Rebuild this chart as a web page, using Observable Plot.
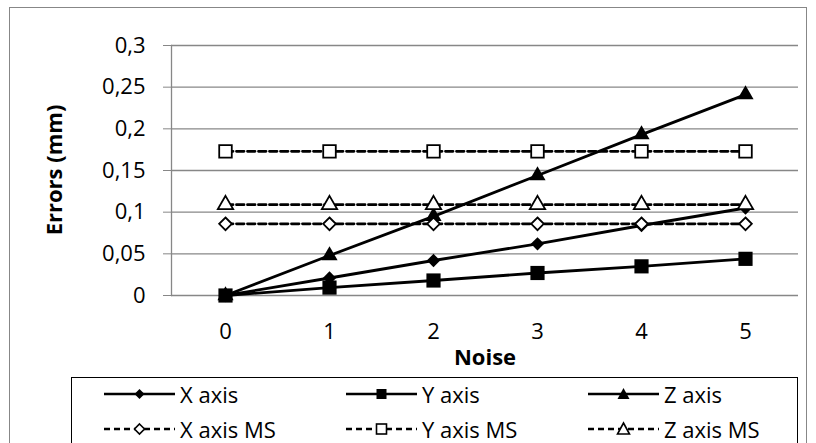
<!DOCTYPE html>
<html>
<head>
<meta charset="utf-8">
<script src="https://cdn.jsdelivr.net/npm/d3@7"></script>
<script src="https://cdn.jsdelivr.net/npm/@observablehq/plot@0.6"></script>
<style>
  html, body { margin: 0; padding: 0; background: #fff; overflow: hidden; }
  #wrap { position: relative; width: 816px; height: 443px; overflow: hidden; font-family: "Open Sans", sans-serif; }
  #border { position: absolute; left: 9px; top: 7px; width: 798px; height: 460px; border: 1px solid #878787; box-sizing: border-box; }
  #chart { position: absolute; left: 0; top: 0; }
  g[aria-label="x-axis label"] text { font-weight: bold; }
  #ylabel { position: absolute; left: 53px; top: 170px; transform: translate(-50%, -50%) rotate(-90deg); font-size: 22px; font-weight: bold; color: #000; white-space: nowrap; line-height: 1; }
  #legend { position: absolute; left: 71px; top: 377px; width: 727px; height: 90px; border: 1px solid #000; box-sizing: border-box; background: #fff; }
  .entry { position: absolute; height: 24px; display: flex; align-items: center; font-size: 22px; color: #000; white-space: nowrap; }
  .entry svg { display: block; margin-right: 5px; }
</style>
</head>
<body>
<div id="wrap">
  <div id="border"></div>
  <div id="chart"></div>
  <div id="ylabel"></div>
  <div id="legend"></div>
</div>
<script>
// ---- data ----
const noise = [0, 1, 2, 3, 4, 5];
const xAxis = [0, 0.021, 0.042, 0.062, 0.084, 0.105];
const yAxis = [0, 0.0095, 0.018, 0.027, 0.035, 0.044];
const zAxis = [0, 0.048, 0.095, 0.144, 0.193, 0.241];
const xAxisMS = [0.086, 0.086, 0.086, 0.086, 0.086, 0.086];
const yAxisMS = [0.173, 0.173, 0.173, 0.173, 0.173, 0.173];
const zAxisMS = [0.109, 0.109, 0.109, 0.109, 0.109, 0.109];
const yTicks = [0, 0.05, 0.1, 0.15, 0.2, 0.25, 0.3];
const seriesNames = ["X axis", "Y axis", "Z axis", "X axis MS", "Y axis MS", "Z axis MS"];
const yLabel = "Errors (mm)";
const xLabel = "Noise";

const seriesValues = [xAxis, yAxis, zAxis, xAxisMS, yAxisMS, zAxisMS];
const seriesStyle = [
  {symbol: "diamond2", fill: "#000", dash: null, r: 6},
  {symbol: "square", fill: "#000", dash: null, r: 8},
  {symbol: "triangle", fill: "#000", dash: null, r: 6},
  {symbol: "diamond2", fill: "#fff", dash: "7.5,3.5", r: 5.7},
  {symbol: "square2", fill: "#fff", dash: "7.5,3.5", r: 8},
  {symbol: "triangle2", fill: "#fff", dash: "7.5,3.5", r: 7.3}
];

const fmt = d => d === 0 ? "0" : String(+d.toFixed(2)).replace(".", ",");

const marks = [
  Plot.ruleY(yTicks, {stroke: "#878787", strokeWidth: 1.3}),
  Plot.frame({anchor: "left", stroke: "#878787", strokeWidth: 1.3}),
  Plot.axisY({ticks: yTicks, tickSize: 8, tickPadding: 18, tickFormat: fmt, stroke: "#878787", label: null}),
  Plot.axisX({tickSize: 0, tickPadding: 28, label: xLabel, labelAnchor: "center", labelArrow: "none", labelOffset: 69})
];

seriesValues.forEach((vals, s) => {
  const st = seriesStyle[s];
  const rows = noise.map((n, i) => ({noise: n, value: vals[i], series: seriesNames[s]}));
  marks.push(Plot.line(rows, {x: "noise", y: "value", stroke: "#000", strokeWidth: 2.8,
    strokeDasharray: st.dash || undefined}));
});
seriesValues.forEach((vals, s) => {
  const st = seriesStyle[s];
  const rows = noise.map((n, i) => ({noise: n, value: vals[i], series: seriesNames[s]}));
  marks.push(Plot.dot(rows, {x: "noise", y: "value", symbol: () => st.symbol, r: st.r,
    fill: st.fill, stroke: st.fill === "#fff" ? "#000" : "none", strokeWidth: 1.8}));
});

const chart = Plot.plot({
  width: 816,
  height: 370,
  marginLeft: 171,
  marginRight: 18,
  marginTop: 45,
  marginBottom: 75,
  style: {fontFamily: "Open Sans, sans-serif", fontSize: "22px", color: "#000", background: "transparent", overflow: "visible"},
  x: {type: "point", domain: noise, padding: 0.5},
  y: {domain: [0, 0.3]},
  symbol: {type: "identity"},
  marks
});
document.getElementById("chart").appendChild(chart);
document.getElementById("ylabel").textContent = yLabel;

// ---- legend ----
const legend = document.getElementById("legend");
const symbolPaths = {
  diamond2: (c, s) => `<path d="M${c},${10 - s}L${c + s},10L${c},${10 + s}L${c - s},10Z"/>`,
  square: (c, s) => `<rect x="${c - s}" y="${10 - s}" width="${2 * s}" height="${2 * s}"/>`,
  square2: (c, s) => `<rect x="${c - s}" y="${10 - s}" width="${2 * s}" height="${2 * s}"/>`,
  triangle: (c, s) => `<path d="M${c},${10 - s - 1}L${c + s + 1},${10 + s}L${c - s - 1},${10 + s}Z"/>`,
  triangle2: (c, s) => `<path d="M${c},${10 - s - 1}L${c + s + 1},${10 + s}L${c - s - 1},${10 + s}Z"/>`
};
seriesNames.forEach((name, s) => {
  const st = seriesStyle[s];
  const col = s % 3, row = Math.floor(s / 3);
  const e = document.createElement("div");
  e.className = "entry";
  e.style.left = (32 + col * 242) + "px";
  e.style.top = (4 + row * 35) + "px";
  const hollow = st.fill === "#fff";
  e.innerHTML = `<svg width="71" height="20">
    <line x1="0" x2="71" y1="10" y2="10" stroke="#000" stroke-width="2.6" ${st.dash ? 'stroke-dasharray="6,4"' : ""}/>
    <g fill="${st.fill}" stroke="${hollow ? "#000" : "none"}" stroke-width="1.6">${symbolPaths[st.symbol](35.5, 5)}</g>
  </svg><span>${name}</span>`;
  legend.appendChild(e);
});
</script>
</body>
</html>
